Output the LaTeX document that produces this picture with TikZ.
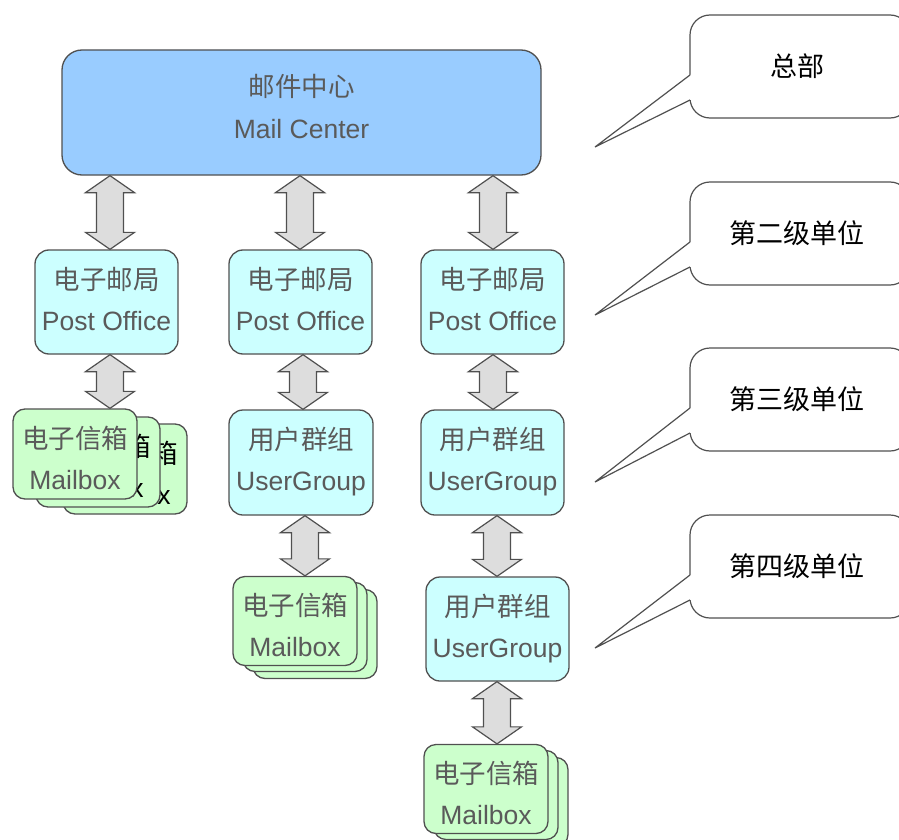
\documentclass[tikz,border=0pt]{standalone}
\usepackage{fontspec}
\setmainfont{Liberation Sans}
\newfontfamily\cjk{Noto Sans CJK SC}
\usetikzlibrary{calc}
\definecolor{mcfill}{HTML}{99CCFF}
\definecolor{pofill}{HTML}{CCFFFF}
\definecolor{mbfill}{HTML}{CCFFCC}
\definecolor{arrfill}{HTML}{DDDDDD}
\definecolor{edge}{HTML}{505050}
\definecolor{txt}{HTML}{5A5A5A}
\tikzset{
 box/.style={draw=edge, line width=1.3pt, rounded corners=14pt, inner sep=0pt},
 mcbox/.style={box, fill=mcfill, rounded corners=20pt, minimum width=479pt, minimum height=125pt},
 pobox/.style={box, fill=pofill, minimum width=143pt, minimum height=104pt},
 mbbox/.style={box, fill=mbfill, rounded corners=12pt, minimum width=124pt, minimum height=89pt},
 cnlbl/.style={anchor=base, inner sep=0pt, text=txt, font=\cjk\fontsize{26.5}{26}\selectfont},
 enlbl/.style={anchor=base, inner sep=0pt, text=txt, font=\fontsize{26.5}{26}\selectfont},
 dbl/.style={draw=edge, fill=arrfill, line width=1.2pt, line join=miter},
 callbox/.style={draw=edge, line width=1.2pt, fill=white, rounded corners=20pt, minimum width=220pt, minimum height=103pt, inner sep=0pt, font=\cjk\fontsize{27}{27}\selectfont, text=black},
 ptr/.style={draw=edge, line width=1.2pt},
}
\newcommand\lbls[4][txt]{%
 \node[cnlbl,text=#1] (#2cn) at ([yshift=-40pt]#2.north) {#3};
 \node[enlbl,text=#1] (#2en) at ([yshift=-81pt]#2.north) {#4};}
\newcommand\darr[3]{%
 \path[dbl] let \p1=(#1.south), \p2=(#2.north) in
 (#3,\y1) -- (#3+24.5pt,\y1-17pt) -- (#3+13.5pt,\y1-17pt) -- (#3+13.5pt,\y2+17pt)
 -- (#3+24.5pt,\y2+17pt) -- (#3,\y2) -- (#3-24.5pt,\y2+17pt) -- (#3-13.5pt,\y2+17pt)
 -- (#3-13.5pt,\y1-17pt) -- (#3-24.5pt,\y1-17pt) -- cycle;}
\newcommand\callout[4]{% name, top y, tip y, text
 \node[callbox] (#1) at (800,#2+51.5) {\hspace*{-6pt}#4};
 \coordinate (#1a) at (690,#2+60);
 \coordinate (#1b) at (690,#2+85);
 \coordinate (#1t) at (595,#3);
 \fill[white] (#1a) -- (#1t) -- (#1b) -- ([xshift=1.6pt]#1b) -- ([xshift=1.6pt]#1a) -- cycle;
 \draw[ptr] (#1a) -- (#1t) -- (#1b);}
\begin{document}
\begin{tikzpicture}[x=1pt,y=-1pt]
\clip (0,0) rectangle (899,840);
\fill[white] (0,0) rectangle (899,840);
% top
\node[mcbox] (mc) at (301.5,112.5) {};
\node[cnlbl] (mccn) at ([yshift=-47pt]mc.north) {邮件中心};
\node[enlbl] (mcen) at ([yshift=-89pt]mc.north) {Mail Center};
% post offices
\node[pobox] (po1) at (106.5,302) {};
\node[pobox] (po2) at (300.5,302) {};
\node[pobox] (po3) at (492.5,302) {};
\lbls{po1}{电子邮局}{Post Office}
\lbls{po2}{电子邮局}{Post Office}
\lbls{po3}{电子邮局}{Post Office}
% user groups
\node[pobox, minimum width=144pt, minimum height=105pt] (ug1) at (301,462.5) {};
\node[pobox, minimum height=105pt] (ug2) at (492.5,462.5) {};
\node[pobox] (ug3) at (497.5,629) {};
\lbls{ug1}{用户群组}{UserGroup}
\lbls{ug2}{用户群组}{UserGroup}
\lbls{ug3}{用户群组}{UserGroup}
% mailbox stack left
\node[mbbox, minimum height=90pt] (mb1c) at (125,469) {};
\lbls[black]{mb1c}{电子信箱}{Mailbox}
\node[mbbox, minimum height=90pt] (mb1b) at (98,462) {};
\lbls[black]{mb1b}{电子信箱}{Mailbox}
\node[mbbox, minimum height=90pt] (mb1) at (75,454) {};
\lbls{mb1}{电子信箱}{Mailbox}
% mailbox stack middle
\node[mbbox] (mb2c) at (315,634) {};
\node[mbbox] (mb2b) at (305,627) {};
\node[mbbox] (mb2) at (295,621) {};
\lbls{mb2}{电子信箱}{Mailbox}
% mailbox stack right
\node[mbbox] (mb3c) at (506,802) {};
\node[mbbox] (mb3b) at (496,795) {};
\node[mbbox] (mb3) at (486,789) {};
\lbls{mb3}{电子信箱}{Mailbox}
% arrows
\darr{mc}{po1}{110pt}
\darr{mc}{po2}{300pt}
\darr{mc}{po3}{493pt}
\darr{po1}{mb1}{110pt}
\darr{po2}{ug1}{303pt}
\darr{po3}{ug2}{493pt}
\darr{ug1}{mb2}{305pt}
\darr{ug2}{ug3}{497pt}
\darr{ug3}{mb3}{497pt}
% callouts
\callout{c1}{15}{147}{总部}
\callout{c2}{182}{315}{第二级单位}
\callout{c3}{348}{482}{第三级单位}
\callout{c4}{515}{648}{第四级单位}
\end{tikzpicture}
\end{document}
